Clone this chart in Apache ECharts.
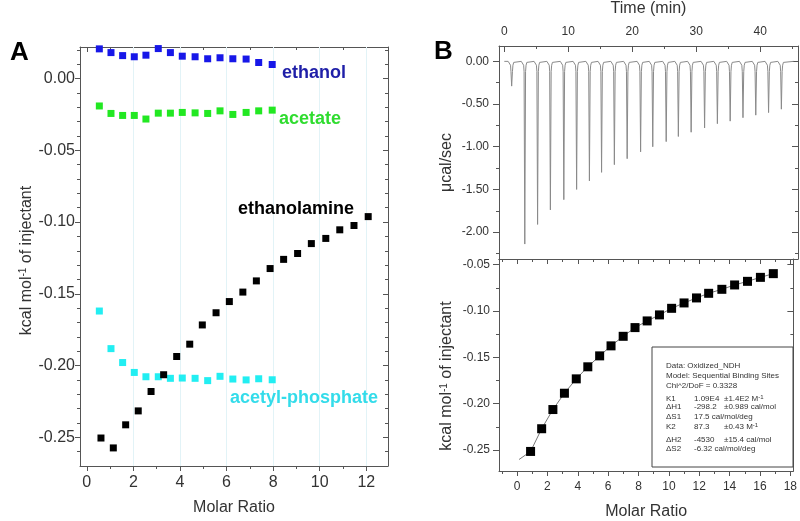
<!DOCTYPE html>
<html><head><meta charset="utf-8">
<script src="https://cdn.jsdelivr.net/npm/echarts@6/dist/echarts.min.js"></script>
<style>html,body{margin:0;padding:0;background:#fff}#c{width:800px;height:521px}</style>
</head><body><div id="c"></div>
<script>
// ---------- Panel A data ----------
const aX = [0.54,1.04,1.54,2.04,2.54,3.07,3.59,4.10,4.65,5.19,5.72,6.27,6.84,7.38,7.96];
const ethanol = [0.0207,0.0181,0.0160,0.0152,0.0163,0.0209,0.0181,0.0156,0.0152,0.0138,0.0145,0.0138,0.0136,0.0112,0.0098];
const acetate = [-0.0191,-0.0243,-0.0257,-0.0257,-0.0282,-0.0241,-0.0241,-0.0236,-0.0239,-0.0243,-0.0225,-0.0250,-0.0236,-0.0225,-0.0220];
const acetylPhosphate = [-0.1620,-0.1882,-0.1979,-0.2048,-0.2078,-0.2078,-0.2089,-0.2087,-0.2089,-0.2105,-0.2075,-0.2094,-0.2100,-0.2092,-0.2099];
const amineX = [0.61,1.14,1.67,2.21,2.76,3.30,3.86,4.42,4.96,5.55,6.12,6.70,7.28,7.87,8.45,9.05,9.64,10.26,10.86,11.47,12.08];
const ethanolamine = [-0.2505,-0.2574,-0.2413,-0.2316,-0.2181,-0.2064,-0.1937,-0.1851,-0.1717,-0.1632,-0.1554,-0.1488,-0.1410,-0.1324,-0.1260,-0.1219,-0.1150,-0.1114,-0.1054,-0.1024,-0.0962];
const aXTicks = [0,2,4,6,8,10,12];
const aXMinor = [1,3,5,7,9,11];
const aGridX = [2,4,6,8,10,12];
const aYTicks = [0,-0.05,-0.10,-0.15,-0.20,-0.25];
const aYMinor = [0.02,0.01,-0.01,-0.02,-0.03,-0.04,-0.06,-0.07,-0.08,-0.09,-0.11,-0.12,-0.13,-0.14,-0.16,-0.17,-0.18,-0.19,-0.21,-0.22,-0.23,-0.24,-0.26];

// ---------- Panel B data ----------
const injTime = [1.05,3.1,5.1,7.1,9.2,11.2,13.2,15.1,17.1,19.1,21.2,23.1,25.2,27.1,29.1,31.2,33.2,35.2,37.2,39.2,41.2,43.2];
const injPeak = [-0.29,-2.14,-1.91,-1.74,-1.62,-1.50,-1.40,-1.30,-1.21,-1.14,-1.06,-1.00,-0.94,-0.88,-0.83,-0.78,-0.73,-0.70,-0.66,-0.63,-0.60,-0.56];
const traceStart = 0, traceEnd = 45.2;
const bX = [0.89,1.62,2.36,3.12,3.90,4.66,5.44,6.19,6.99,7.77,8.57,9.38,10.18,11.00,11.82,12.62,13.49,14.33,15.18,16.03,16.88];
const bY = [-0.2515,-0.2270,-0.2063,-0.1887,-0.1732,-0.1602,-0.1484,-0.1376,-0.1273,-0.1179,-0.1107,-0.1042,-0.0971,-0.0913,-0.0859,-0.0809,-0.0766,-0.0719,-0.0680,-0.0637,-0.0597];
const fitStart = [0.13,-0.2602];
const tTicks = [0,10,20,30,40];
const tMinor = [5,15,25,35,45];
const pTicks = [0,-0.5,-1.0,-1.5,-2.0];
const pMinor = [-0.25,-0.75,-1.25,-1.75,-2.25];
const bXTicks = [0,2,4,6,8,10,12,14,16,18];
const bXMinor = [-1,1,3,5,7,9,11,13,15,17];
const bYTicks = [-0.05,-0.10,-0.15,-0.20,-0.25];
const bYMinor = [-0.075,-0.125,-0.175,-0.225];
const legendLines = [
  ['Data: Oxidized_NDH','',''],
  ['Model: Sequential Binding Sites','',''],
  ['Chi^2/DoF = 0.3328','',''],
  ['K1','1.09E4','±1.4E2 M{s|-1}'],
  ['ΔH1','-298.2','±0.989 cal/mol'],
  ['ΔS1','17.5 cal/mol/deg',''],
  ['K2','87.3','±0.43 M{s|-1}'],
  ['ΔH2','-4530','±15.4 cal/mol'],
  ['ΔS2','-6.32 cal/mol/deg','']
];

// ---------- build ----------
// spike outline: [time offset, depth] where depth 'P' means the injection's peak
const spikeShape = [[-0.45,0],[-0.2,-0.012],[-0.08,-0.045],[-0.01,-0.12],[0.1,'P'],[0.22,-0.12],[0.3,-0.045],[0.42,-0.012],[0.65,0]];
const trace = [[traceStart,0]];
injTime.forEach((t,i)=>{ spikeShape.forEach(s=>trace.push([t+s[0], s[1]==='P'?injPeak[i]:Math.max(s[1], injPeak[i])])); });
trace.push([traceEnd,0]);

const FONT = '"Liberation Sans", Arial, sans-serif';
const AX = '#555';
const TXT = '#333';

function axis(o){
  const a = {
    type:'value', gridIndex:o.g, position:o.pos, min:o.min, max:o.max,
    splitLine:{show:false},
    axisLine:{show:!!o.line, onZero:false, lineStyle:{color:AX, width:1}},
    axisTick:{show:!!o.ticks, customValues:o.ticks||[], inside:!!o.inside, length:o.len||5, lineStyle:{color:AX, width:1}},
    axisLabel:{show:!!o.labels, customValues:o.labels||[], fontSize:o.fs||12, color:TXT, fontFamily:FONT, margin:o.margin||8,
      formatter:o.fmt||(v=>String(v))}
  };
  if (o.name){
    a.name = o.name; a.nameLocation='middle'; a.nameGap=o.nameGap;
    a.nameTextStyle = {fontSize:16, color:TXT, fontFamily:FONT, padding:o.namePad||0,
      rich:{sup:{fontSize:10, color:TXT, fontFamily:FONT, verticalAlign:'top', lineHeight:10}}};
  }
  return a;
}
const f2 = v=>v.toFixed(2);

const xAxis = [
  axis({g:0,pos:'bottom',min:-0.29,max:12.93,line:1,ticks:aXTicks,len:5,labels:aXTicks,fs:16,margin:9,name:'Molar Ratio',nameGap:34}),
  axis({g:0,pos:'bottom',min:-0.29,max:12.93,ticks:aXMinor,len:3}),
  axis({g:0,pos:'top',min:-0.29,max:12.93,line:1,ticks:aXTicks,len:5,inside:1}),
  axis({g:0,pos:'top',min:-0.29,max:12.93,ticks:aXMinor,len:3,inside:1}),
  axis({g:1,pos:'top',min:-0.83,max:45.9,line:1,ticks:tTicks,len:6,inside:1,labels:tTicks,fs:12,margin:8,name:'Time (min)',nameGap:29}),
  axis({g:1,pos:'top',min:-0.83,max:45.9,ticks:tMinor,len:3,inside:1}),
  axis({g:1,pos:'bottom',min:-0.83,max:45.9,line:1}),
  axis({g:2,pos:'bottom',min:-1.19,max:18.2,line:1,ticks:bXTicks,len:5,labels:bXTicks,fs:12,margin:10,name:'Molar Ratio',nameGap:33}),
  axis({g:2,pos:'bottom',min:-1.19,max:18.2,ticks:bXMinor,len:3}),
  axis({g:2,pos:'top',min:-1.19,max:18.2,line:1,ticks:bXTicks,len:5,inside:1}),
  axis({g:2,pos:'top',min:-1.19,max:18.2,ticks:bXMinor,len:3,inside:1})
];
const yAxis = [
  axis({g:0,pos:'left',min:-0.27,max:0.022,line:1,ticks:aYTicks,len:5,labels:aYTicks,fs:16,margin:5,fmt:f2,
        name:'kcal mol{sup|-1} of injectant',nameGap:44,namePad:[0,8,0,0]}),
  axis({g:0,pos:'left',min:-0.27,max:0.022,ticks:aYMinor,len:3}),
  axis({g:0,pos:'right',min:-0.27,max:0.022,line:1,ticks:aYTicks,len:5,inside:1}),
  axis({g:0,pos:'right',min:-0.27,max:0.022,ticks:aYMinor,len:3,inside:1}),
  axis({g:1,pos:'left',min:-2.315,max:0.18,line:1,ticks:pTicks,len:6,labels:pTicks,fs:12,margin:10,fmt:f2,
        name:'μcal/sec',nameGap:44,namePad:[0,20,0,0]}),
  axis({g:1,pos:'left',min:-2.315,max:0.18,ticks:pMinor,len:3}),
  axis({g:1,pos:'right',min:-2.315,max:0.18,line:1,ticks:pTicks,len:6,inside:1}),
  axis({g:1,pos:'right',min:-2.315,max:0.18,ticks:pMinor,len:3,inside:1}),
  axis({g:2,pos:'left',min:-0.2726,max:-0.0439,line:1,ticks:bYTicks,len:6,labels:bYTicks,fs:12,margin:9,fmt:f2,
        name:'kcal mol{sup|-1} of injectant',nameGap:44,namePad:[0,22,0,0]}),
  axis({g:2,pos:'left',min:-0.2726,max:-0.0439,ticks:bYMinor,len:3}),
  axis({g:2,pos:'right',min:-0.2726,max:-0.0439,line:1,ticks:bYTicks,len:6,inside:1}),
  axis({g:2,pos:'right',min:-0.2726,max:-0.0439,ticks:bYMinor,len:3,inside:1})
];

function pts(xs, ys){ return xs.map((x,i)=>[x, ys[i]]); }
function sq(name, xs, ys, color, size, xi, yi){
  return {type:'scatter', name, xAxisIndex:xi, yAxisIndex:yi, symbol:'rect', symbolSize:size,
    itemStyle:{color, opacity:1}, data:pts(xs,ys), z:3, silent:true};
}

const series = [
  {type:'scatter', xAxisIndex:0, yAxisIndex:0, data:[], silent:true, z:1,
   markLine:{silent:true, z:1, symbol:['none','none'], label:{show:false}, animation:false,
     lineStyle:{color:'#e2f3f7', type:'solid', width:1}, data:aGridX.map(v=>({xAxis:v}))}},
  sq('ethanol', aX, ethanol, '#1717e8', 7, 0, 0),
  sq('acetate', aX, acetate, '#22e822', 7, 0, 0),
  sq('acetyl-phosphate', aX, acetylPhosphate, '#22eef2', 7, 0, 0),
  sq('ethanolamine', amineX, ethanolamine, '#000000', 7, 0, 0),
  {type:'line', xAxisIndex:4, yAxisIndex:4, data:trace, showSymbol:false, symbol:'none',
   lineStyle:{color:'#8a8a8a', width:1}, silent:true, z:2},
  {type:'line', xAxisIndex:7, yAxisIndex:8, data:[fitStart].concat(pts(bX,bY)), showSymbol:false, symbol:'none',
   lineStyle:{color:'#777', width:1}, silent:true, z:2},
  sq('fit data', bX, bY, '#000000', 9, 7, 8)
];

const txt = (t,x,y,color,size)=>({type:'text', x, y, silent:true, z:10,
  style:{text:t, fill:color, font:'bold '+size+'px '+FONT, verticalAlign:'middle'}});

const graphic = [
  txt('A',10,53,'#000',26),
  txt('B',434,52,'#000',26),
  txt('ethanol',282,73,'#1f1fa8',18),
  txt('acetate',279,119,'#2fdc2f',18),
  txt('ethanolamine',238,209,'#000',18),
  txt('acetyl-phosphate',230,398,'#33dcea',18),
  {type:'rect', z:10, silent:true, shape:{x:652,y:347,width:141,height:120},
   style:{fill:'#fff', stroke:'#444', lineWidth:1}}
];
const legY = [366,375.7,385.5,398.7,406.7,416.7,426.7,439.3,449];
const legCols = [666,694,724];
legendLines.forEach((ln,i)=>{
  ln.forEach((t,j)=>{
    if(!t) return;
    graphic.push({type:'text', z:11, silent:true, x:legCols[j], y:legY[i],
      style:{text:t, fill:'#333', font:'8px '+FONT, verticalAlign:'middle',
        rich:{s:{fontSize:6, fill:'#333', verticalAlign:'top', lineHeight:6}}}});
  });
});

const chart = echarts.init(document.getElementById('c'), null, {renderer:'canvas'});
chart.setOption({
  backgroundColor:'#fff',
  animation:false,
  grid:[
    {left:80, top:47, width:308, height:424},
    {left:499, top:46, width:299, height:213},
    {left:499, top:259, width:299, height:213}
  ],
  xAxis, yAxis, series, graphic
});
</script>
</body></html>
